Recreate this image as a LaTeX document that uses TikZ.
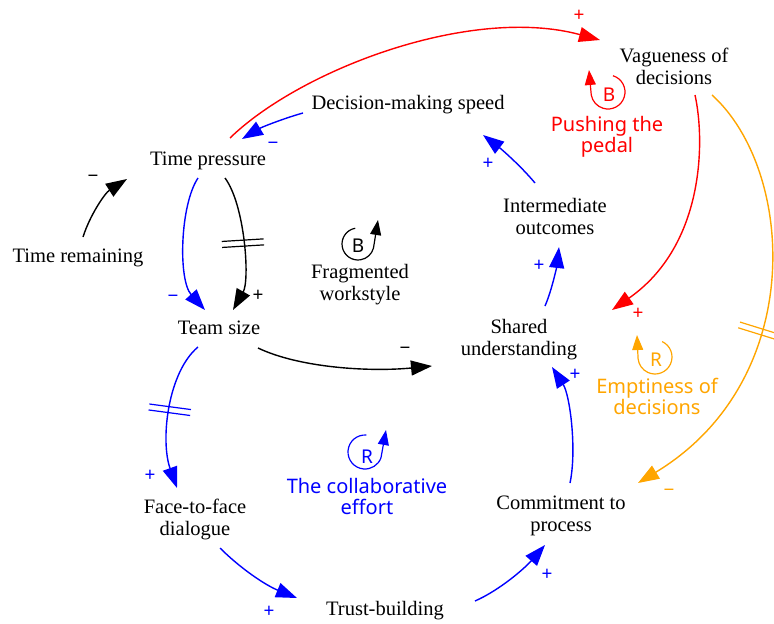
\documentclass[tikz,border=0pt]{standalone}
\usepackage{fontspec}
\setmainfont{Liberation Serif}
\newfontfamily\loopfont{Noto Sans}
\usetikzlibrary{arrows.meta,decorations.markings}

\definecolor{cldblue}{RGB}{0,0,255}
\definecolor{cldred}{RGB}{255,0,0}
\definecolor{cldorange}{RGB}{255,165,0}

\tikzset{
  var/.style={font=\fontsize{20.5}{22}\selectfont, align=center, inner sep=0pt},
  link/.style={line width=1.4pt, -{Triangle[length=21pt,width=15pt]}},
  looparrow/.style={line width=1.2pt, -{Triangle[length=15pt,width=11pt]}},
  looplabel/.style={font=\loopfont\fontsize{20}{21}\selectfont, align=center, inner sep=0pt},
  loopletter/.style={font=\loopfont\fontsize{19}{19}\selectfont, inner sep=0pt},
  sign/.style={font=\loopfont\bfseries\fontsize{19}{19}\selectfont, inner sep=0pt},
  delaymark/.style={postaction={decorate}, decoration={markings,
      mark=at position #1 with {\draw[-, line width=1.2pt] (-3pt,-21pt) -- (-3pt,21pt) (3pt,-21pt) -- (3pt,21pt);}}},
}

\begin{document}
\begin{tikzpicture}[x=1pt, y=-1pt]
  \useasboundingbox (0,0) rectangle (774,624);

  % variables
  \node[var] (tp)   at (208,161) {Time pressure};
  \node[var] (dms)  at (408,105) {Decision-making speed};
  \node[var] (vag)  at (674,66)  {Vagueness of\\decisions};
  \node[var] (trem) at (78,258)  {Time remaining};
  \node[var] (io)   at (555,216) {Intermediate\\outcomes};
  \node[var] (frag) at (360,285) {Fragmented\\workstyle};
  \node[var] (ts)   at (219,328) {Team size};
  \node[var] (su)   at (519,340) {Shared\\understanding};
  \node[var] (f2f)  at (195,519) {Face-to-face\\dialogue};
  \node[var] (tb)   at (385,611) {Trust-building};
  \node[var] (cp)   at (561,516) {Commitment to\\process};

  % causal links
  \draw[link, cldred] ([shift={(22,-23)}]tp.center) .. controls (300,70) and (470,5) .. ([shift={(-74,-26)}]vag.center);
  \draw[link, cldblue] ([shift={(-105,8)}]dms.center) .. controls (285,118) and (262,127) .. ([shift={(34,-22)}]tp.center);
  \draw[link] ([shift={(5,-21)}]trem.center) .. controls (90,215) and (105,193) .. ([shift={(-81,18)}]tp.center);
  \draw[link, cldblue] ([shift={(-10,17)}]tp.center) .. controls (180,205) and (178,280) .. ([shift={(-14,-18)}]ts.center);
  \draw[link, delaymark=0.5] ([shift={(17,17)}]tp.center) .. controls (245,205) and (250,280) .. ([shift={(14,-18)}]ts.center);
  \draw[link] ([shift={(39,20)}]ts.center) .. controls (300,368) and (370,372) .. ([shift={(-87,26)}]su.center);
  \draw[link, cldblue] ([shift={(26,-34)}]su.center) .. controls (552,290) and (557,265) .. ([shift={(4,31)}]io.center);
  \draw[link, cldblue] ([shift={(-20,-33)}]io.center) .. controls (520,165) and (500,148) .. ([shift={(75,30)}]dms.center);
  \draw[link, cldred] ([shift={(21,29)}]vag.center) .. controls (705,140) and (705,245) .. ([shift={(93,-30)}]su.center);
  \draw[link, cldorange, delaymark=0.56] ([shift={(38,29)}]vag.center) .. controls (795,170) and (808,380) .. ([shift={(77,-33)}]cp.center);
  \draw[link, cldblue, delaymark=0.47] ([shift={(-21,19)}]ts.center) .. controls (168,372) and (160,440) .. ([shift={(-18,-31)}]f2f.center);
  \draw[link, cldblue] ([shift={(25,29)}]f2f.center) .. controls (240,568) and (265,585) .. ([shift={(-88,-13)}]tb.center);
  \draw[link, cldblue] ([shift={(90,-10)}]tb.center) .. controls (500,590) and (525,568) .. ([shift={(-16,29)}]cp.center);
  \draw[link, cldblue] ([shift={(9,-33)}]cp.center) .. controls (577,450) and (570,395) .. ([shift={(33,27)}]su.center);

  % polarities
  \node[sign, text=cldred]    at (579,16)  {+};
  \node[sign, text=cldblue]   at (273,146) {−};
  \node[sign]                 at (93,179)  {−};
  \node[sign, text=cldblue]   at (173,299) {−};
  \node[sign]                 at (258,296) {+};
  \node[sign]                 at (405,351) {−};
  \node[sign, text=cldblue]   at (539,266) {+};
  \node[sign, text=cldblue]   at (488,164) {+};
  \node[sign, text=cldred]    at (638,314) {+};
  \node[sign, text=cldorange] at (669,493) {−};
  \node[sign, text=cldblue]   at (150,476) {+};
  \node[sign, text=cldblue]   at (269,612) {+};
  \node[sign, text=cldblue]   at (547,575) {+};
  \node[sign, text=cldblue]   at (575,375) {+};

  % loop markers
  \draw[looparrow] (358,244) ++(260:16) arc[start angle=260, end angle=15, radius=16] -- (378,220);
  \node[loopletter] (fragB) at (358,246) {B};

  \draw[looparrow, cldred] (608,92) ++(-73:17) arc[start angle=-73, end angle=170, radius=17] -- (589,70);
  \node[loopletter, text=cldred] (pushB) at (609,95) {B};
  \node[looplabel, text=cldred] (pushlbl) at (607,137) {Pushing the\\pedal};

  \draw[looparrow, cldblue] (365,452) ++(275:17) arc[start angle=275, end angle=20, radius=17] -- (386,430);
  \node[loopletter, text=cldblue] (collR) at (367,457) {R};
  \node[looplabel, text=cldblue] (colllbl) at (367,496) {The collaborative\\effort};

  \draw[looparrow, cldorange] (655,357) ++(-65:17) arc[start angle=-65, end angle=175, radius=17] -- (637,335);
  \node[loopletter, text=cldorange] (emptR) at (656,360) {R};
  \node[looplabel, text=cldorange] (emptlbl) at (657,396) {Emptiness of\\decisions};
\end{tikzpicture}
\end{document}
